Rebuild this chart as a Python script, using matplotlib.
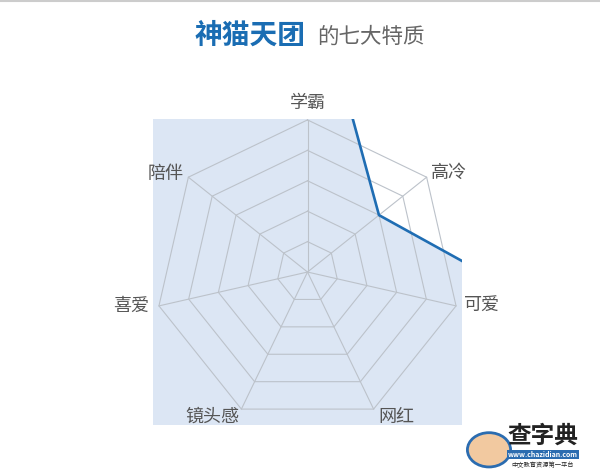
import numpy as np
from matplotlib import pyplot as plt

plt.rcParams['font.family'] = ['Noto Sans CJK SC', 'DejaVu Sans']

#Data
labels = ['学霸', '高冷', '可爱', '网红', '镜头感', '喜爱', '陪伴']
values = [10.5, 3.0, 10, 10, 10, 10, 10]
rings = [1, 2, 3, 4, 5]

n = len(labels)
ang = np.pi/2 - 2*np.pi*np.arange(n)/n

fig = plt.figure(figsize=(6, 4.76), dpi=100)
ax = fig.add_axes([0.255, 0.107, 0.515, 0.643])
ax.set_xlim(-5.07, 5.07)
ax.set_ylim(-5.03, 5.03)
ax.axis('off')

#data polygon (clipped to the box)
v = np.array(values)
px = v*np.cos(ang)
py = v*np.sin(ang)
ax.fill(np.append(px, px[0]), np.append(py, py[0]), color='#dce6f4', zorder=1)
ax.plot(np.append(px, px[0]), np.append(py, py[0]), color='#1f6db3', lw=1.9, zorder=3)

#grid
for r in rings:
    gx = r*np.cos(ang)
    gy = r*np.sin(ang)
    ax.plot(np.append(gx, gx[0]), np.append(gy, gy[0]), color='#bcc2ca', lw=0.8, zorder=2)
for a in ang:
    ax.plot([0, 5*np.cos(a)], [0, 5*np.sin(a)], color='#bcc2ca', lw=0.8, zorder=2)

#axis labels
offs = [(0, 0.55), (0.75, 0.15), (0.85, 0.0), (0.75, -0.25), (-0.95, -0.25), (-0.9, 0.0), (-0.75, 0.1)]
for i, lab in enumerate(labels):
    x = 5*np.cos(ang[i]) + offs[i][0]
    y = 5*np.sin(ang[i]) + offs[i][1]
    ax.text(x, y, lab, fontsize=13, color='#555555', ha='center', va='center', clip_on=False)

#title
fig.text(0.509, 0.925, '神猫天团', fontsize=20, fontweight='bold', color='#1a6db3', ha='right', va='center')
fig.text(0.528, 0.922, '的七大特质', fontsize=15.5, color='#666666', ha='left', va='center')

#watermark
fig.text(0.905, 0.085, '查字典', fontsize=17, fontweight='bold', color='#222222', ha='center', va='center')
fig.text(0.905, 0.045, 'www.chazidian.com', fontsize=5, fontweight='bold', color='white', ha='center', va='center',
         bbox=dict(boxstyle='square,pad=0.15', fc='#2b6cb0', ec='none'))
fig.text(0.905, 0.022, '中文教育资源第一平台', fontsize=4.5, color='#222222', ha='center', va='center')
fig.patches.append(plt.Circle((0.815, 0.055), 0.036, transform=fig.transFigure, fc='#f2c9a0', ec='#2b6cb0', lw=2))

fig.add_artist(plt.Line2D([0, 1], [0.997, 0.997], color='#cccccc', lw=1.5, transform=fig.transFigure))

plt.savefig('out.png', dpi=100)
